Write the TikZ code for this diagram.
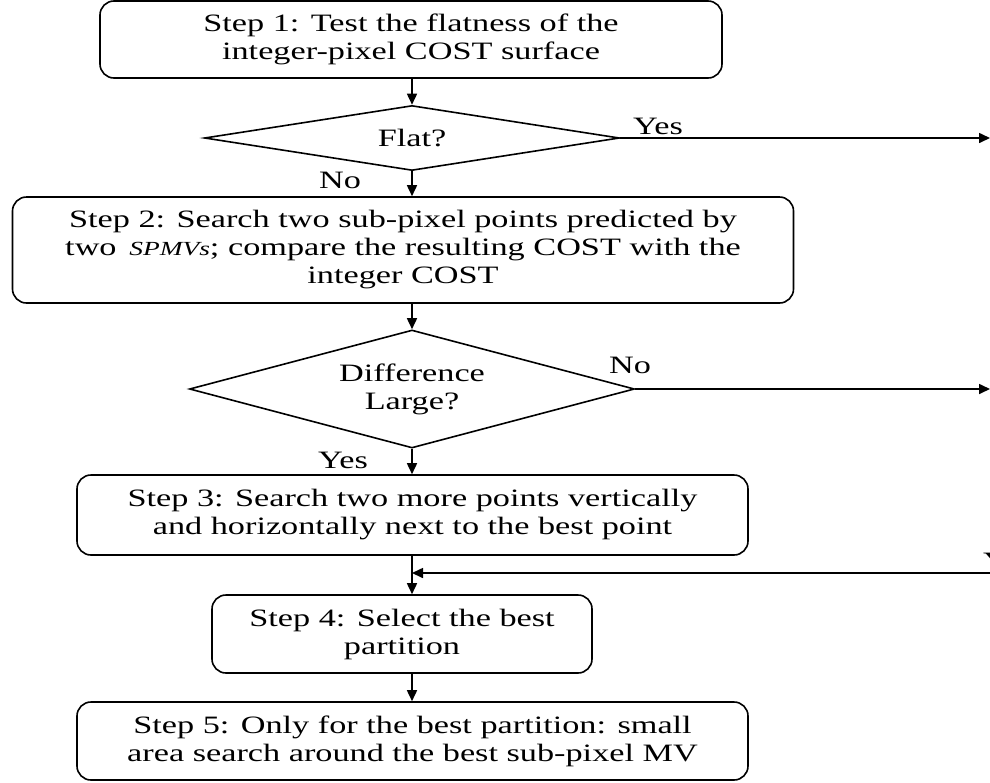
\documentclass[tikz,border=0pt]{standalone}
\usepackage{fontspec}
\setmainfont{Liberation Serif}[FakeStretch=1.37]
\usepackage{tikz}
\usetikzlibrary{shapes.geometric,arrows.meta}

\tikzset{
    stepbox/.style={rectangle, rounded corners=14pt, draw=black,
        line width=1.6pt, align=center, inner sep=0pt},
    ask/.style={diamond, draw=black, line width=1.6pt, inner sep=0pt},
    flow/.style={-{Triangle[length=11pt,width=10pt]}, line width=1.6pt},
    lbl/.style={inner sep=0pt, align=center}
}

\begin{document}
\begin{tikzpicture}[x=1pt, y=-1pt,
    every node/.style={font=\fontsize{25}{28}\selectfont}]

\useasboundingbox (0,0) rectangle (990,782);

% Steps
\node[stepbox, minimum width=622pt, minimum height=77pt]
    (Step-1) at (411,39.5)
    {Step 1: Test the flatness of the\\integer-pixel COST surface};
\node[stepbox, minimum width=781pt, minimum height=106pt]
    (Step-2) at (403,250)
    {Step 2: Search two sub-pixel points predicted by\\
     two \,{\fontsize{20}{28}\selectfont\itshape SPMVs}; compare the resulting COST with the\\
     integer COST};
\node[stepbox, minimum width=671pt, minimum height=80pt]
    (Step-3) at (412.5,515)
    {Step 3: Search two more points vertically\\and horizontally next to the best point};
\node[stepbox, minimum width=380pt, minimum height=78pt]
    (Step-4) at (402,634)
    {Step 4: Select the best\\partition};
\node[stepbox, minimum width=671pt, minimum height=78pt]
    (Step-5) at (412.5,741)
    {Step 5: Only for the best partition: small\\area search around the best sub-pixel MV};

% Decisions (shape first, question on top)
\node[ask, minimum width=415pt, minimum height=65pt]
    (Ask-1) at (412,138) {};
\node[lbl] (Ask-1-text) at (Ask-1) {Flat?};
\node[ask, minimum width=445pt, minimum height=118pt]
    (Ask-2) at (412,389) {};
\node[lbl] (Ask-2-text) at (Ask-2) {Difference\\Large?};

% Loose ends on the right
\coordinate (Out-1) at (990,138);
\coordinate (Out-2) at (990,389);
\coordinate (In-3) at (990,573);
\coordinate (Join) at (412,573);

% Main flow
\draw[flow] (Step-1.south -| Ask-1.north) -- (Ask-1.north);
\draw[flow] (Ask-1.south) -- (Ask-1.south |- Step-2.north);
\draw[flow] (Ask-1.south |- Step-2.south) -- (Ask-2.north);
\draw[flow] (Ask-2.south) -- (Ask-2.south |- Step-3.north);
\draw[flow] (Step-3.south -| Join) -- (Join |- Step-4.north);
\draw[flow] (Join |- Step-4.south) -- (Join |- Step-5.north);

% Branches
\draw[flow] (Ask-1.east) -- (Out-1);
\draw[flow] (Ask-2.east) -- (Out-2);
\draw[flow] (In-3) -- (Join);

% Labels
\node[lbl] (Yes-1) at (658,126) {Yes};
\node[lbl] (No-1) at (340,180) {No};
\node[lbl] (No-2) at (630,365) {No};
\node[lbl] (Yes-2) at (343,460) {Yes};
\node[lbl, anchor=base west] (Yes-3) at (983,569) {Yes};

\end{tikzpicture}
\end{document}
